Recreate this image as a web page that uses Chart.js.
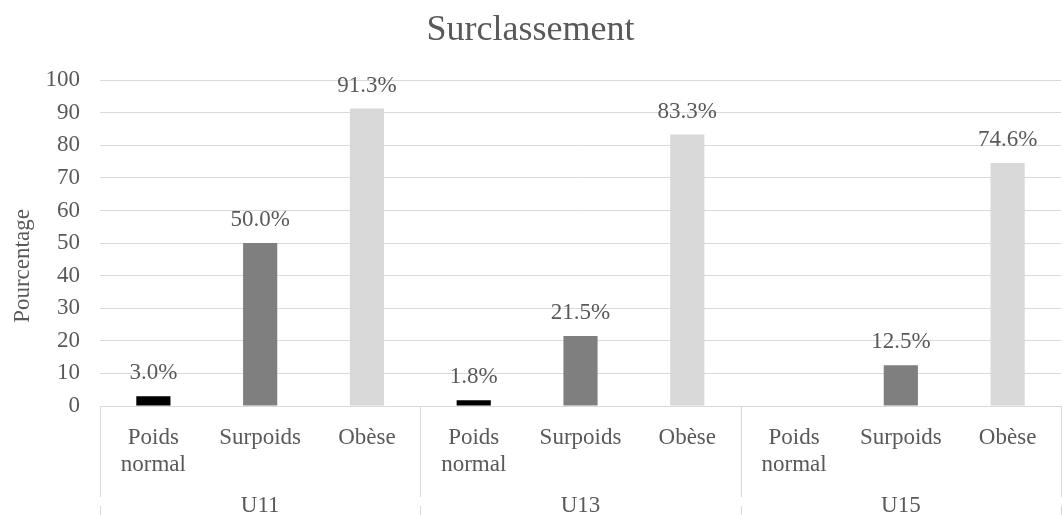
<!DOCTYPE html>
<html lang="fr">
<head>
  <meta charset="UTF-8">
  <title>Surclassement</title>
  <style>
    body { margin: 0; background: #ffffff; }
    #wrap { width: 1062px; height: 515px; }
  </style>
</head>
<body>
  <div id="wrap"><canvas id="chart"></canvas></div>

  <script src="https://cdn.jsdelivr.net/npm/chart.js"></script>
  <script>
    // données
    const groups = ['U11', 'U13', 'U15'];
    const classes = [['Poids', 'normal'], 'Surpoids', 'Obèse'];
    const values = [3.0, 50.0, 91.3, 1.8, 21.5, 83.3, null, 12.5, 74.6];
    const yTicks = [0, 10, 20, 30, 40, 50, 60, 70, 80, 90, 100];
    const classColors = ['#000000', '#7f7f7f', '#d9d9d9'];

    const labels = [];
    const colors = [];
    groups.forEach(() => {
      classes.forEach((c, i) => {
        labels.push(c);
        colors.push(classColors[i]);
      });
    });

    const FONT = "'Liberation Serif', 'Times New Roman', serif";
    const TXT = '#595959';

    // étiquettes de valeur au-dessus des barres
    const valueLabels = {
      id: 'valueLabels',
      afterDatasetsDraw(chart) {
        const ctx = chart.ctx;
        const meta = chart.getDatasetMeta(0);
        ctx.save();
        ctx.font = '23px ' + FONT;
        ctx.fillStyle = TXT;
        ctx.textAlign = 'center';
        ctx.textBaseline = 'middle';
        meta.data.forEach((bar, i) => {
          const v = values[i];
          if (v === null) return;
          ctx.fillText(v.toFixed(1) + '%', bar.x, bar.y - 23);
        });
        ctx.restore();
      }
    };

    // séparateurs, noms de groupes et titre de l'axe vertical
    const groupAxis = {
      id: 'groupAxis',
      afterDraw(chart) {
        const ctx = chart.ctx;
        const x = chart.scales.x;
        const area = chart.chartArea;
        const step = (x.right - x.left) / labels.length;
        ctx.save();
        ctx.strokeStyle = '#d9d9d9';
        ctx.lineWidth = 1;
        for (let g = 0; g <= groups.length; g++) {
          const px = Math.round(x.left + g * 3 * step) + 0.5;
          ctx.beginPath();
          ctx.moveTo(px, area.bottom);
          ctx.lineTo(px, 497);
          ctx.moveTo(px, 506);
          ctx.lineTo(px, chart.height);
          ctx.stroke();
        }
        ctx.font = '23px ' + FONT;
        ctx.fillStyle = TXT;
        ctx.textAlign = 'center';
        ctx.textBaseline = 'alphabetic';
        groups.forEach((g, i) => {
          ctx.fillText(g, x.left + (i * 3 + 1.5) * step, 512);
        });
        // titre de l'axe Y, centré comme dans l'original
        ctx.translate(23, 266);
        ctx.rotate(-Math.PI / 2);
        ctx.textBaseline = 'middle';
        ctx.fillText('Pourcentage', 0, 0);
        ctx.restore();
      }
    };

    new Chart(document.getElementById('chart'), {
      type: 'bar',
      data: {
        labels: labels,
        datasets: [{
          data: values,
          backgroundColor: colors,
          barPercentage: 0.32,
          categoryPercentage: 1.0
        }]
      },
      options: {
        responsive: true,
        maintainAspectRatio: false,
        animation: false,
        layout: { padding: { right: 1 } },
        plugins: {
          legend: { display: false },
          tooltip: { enabled: false },
          title: {
            display: true,
            text: 'Surclassement',
            color: TXT,
            font: { family: FONT, size: 36, weight: 'normal' },
            padding: { top: 9, bottom: 28 }
          }
        },
        scales: {
          x: {
            grid: { display: false },
            border: { display: false },
            ticks: {
              color: TXT,
              font: { family: FONT, size: 23, lineHeight: 1.2 },
              maxRotation: 0,
              autoSkip: false,
              padding: 10
            },
            afterFit(scale) { scale.height = 109; }
          },
          y: {
            min: 0,
            max: 100,
            afterBuildTicks(scale) {
              scale.ticks = yTicks.map(v => ({ value: v }));
            },
            grid: { color: '#d9d9d9', lineWidth: 1, drawTicks: false },
            border: { display: false },
            ticks: {
              color: TXT,
              font: { family: FONT, size: 23 },
              padding: 20
            },
            afterFit(scale) { scale.width = 100; }
          }
        }
      },
      plugins: [valueLabels, groupAxis]
    });
  </script>
</body>
</html>
